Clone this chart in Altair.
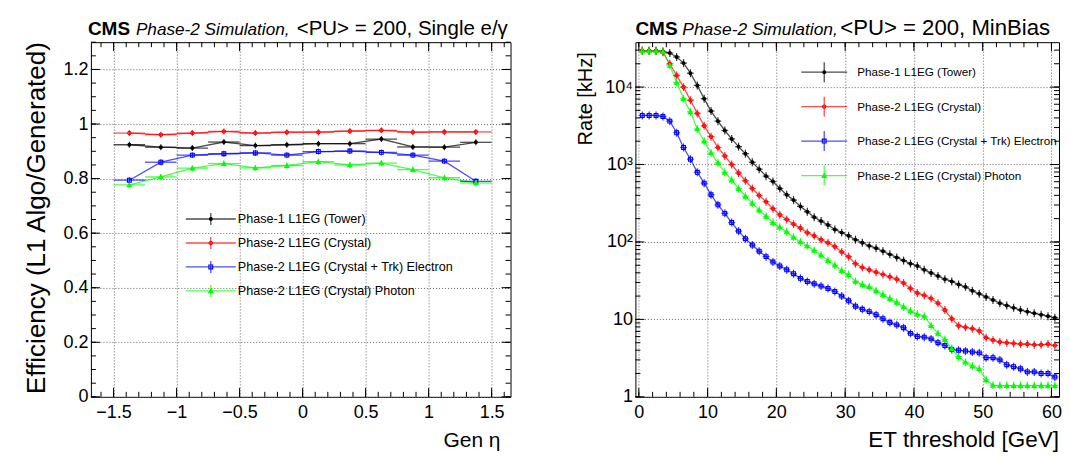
import altair as alt
import pandas as pd

FONT = "Liberation Sans"

names = ["Phase-1 L1EG (Tower)", "Phase-2 L1EG (Crystal)",
         "Phase-2 L1EG (Crystal + Trk) Electron", "Phase-2 L1EG (Crystal) Photon"]
colors = ["#000000", "#ff0000", "#0000ff", "#00ff00"]
shapes = ["circle", "circle", "square", "triangle-up"]
fills = ["#000000", "transparent", "transparent", "#00ff00"]

# ---- efficiency vs eta ----
eta_centers = [-1.375, -1.125, -0.875, -0.625, -0.375, -0.125,
               0.125, 0.375, 0.625, 0.875, 1.125, 1.375]
eff_tower = [0.924, 0.915, 0.912, 0.934, 0.921, 0.924, 0.928, 0.928, 0.945, 0.916, 0.915, 0.933]
eff_crystal = [0.967, 0.961, 0.967, 0.973, 0.967, 0.970, 0.970, 0.974, 0.977, 0.970, 0.971, 0.971]
eff_electron = [0.794, 0.860, 0.886, 0.891, 0.894, 0.886, 0.899, 0.901, 0.896, 0.886, 0.864, 0.790]
eff_photon = [0.777, 0.806, 0.838, 0.855, 0.839, 0.848, 0.862, 0.850, 0.857, 0.833, 0.803, 0.784]

# ---- rate vs ET threshold ----
et_centers = [i + 0.5 for i in range(61)]
rate_tower = [29500, 29500, 29500, 28800, 27500, 24500, 20400, 15100, 10500, 7080,
              4900, 3630, 2750, 2140, 1700, 1380, 1070, 871, 708, 603,
              490, 407, 347, 288, 245, 209, 186, 166, 145, 132,
              120, 107, 97.7, 89.1, 83.2, 75.9, 69.2, 63.1, 57.5, 52.5,
              49.0, 43.7, 39.8, 36.3, 33.1, 30.9, 28.2, 26.3, 23.4, 21.4,
              19.5, 17.8, 16.2, 15.1, 14.1, 13.2, 12.6, 12.0, 11.5, 11.0, 10.5]
rate_crystal = [29500, 29500, 29500, 28200, 20000, 14100, 10000, 6760, 4570, 3160,
                2290, 1660, 1290, 1000, 776, 617, 490, 398, 331, 269,
                224, 195, 170, 151, 132, 120, 107, 97.7, 87.1, 74.1,
                64.6, 52.5, 46.8, 43.7, 40.7, 38.0, 35.5, 33.1, 29.5, 25.1,
                21.9, 20.4, 18.6, 16.2, 13.2, 10.2, 8.3, 7.9, 7.6, 7.1,
                5.8, 5.4, 5.1, 5.0, 4.9, 4.8, 4.8, 4.7, 4.7, 4.8, 4.6]
rate_electron = [4300, 4300, 4300, 4170, 3630, 2570, 1660, 1170, 794, 575,
                 407, 302, 234, 178, 138, 110, 91.2, 75.9, 64.6, 55.0,
                 49.0, 43.7, 38.9, 33.9, 30.9, 28.8, 26.9, 25.1, 22.9, 20.0,
                 17.4, 14.8, 13.5, 12.6, 11.5, 10.2, 9.1, 8.5, 7.8, 6.6,
                 6.0, 5.9, 5.6, 5.0, 4.6, 4.1, 4.0, 3.9, 3.8, 3.7,
                 3.2, 3.2, 3.0, 2.6, 2.45, 2.3, 2.1, 2.1, 2.0, 2.0, 1.8]
rate_photon = [29500, 29500, 29500, 28800, 19100, 11500, 7080, 4790, 2880, 2000,
               1410, 1050, 794, 631, 490, 389, 316, 257, 214, 178,
               155, 135, 115, 100, 89.1, 77.6, 67.6, 57.5, 50.1, 42.7,
               38.0, 30.9, 28.2, 26.3, 23.4, 20.9, 18.6, 16.6, 14.5, 12.9,
               11.7, 11.0, 8.3, 6.6, 5.5, 4.2, 3.3, 2.8, 2.5, 2.3,
               1.66, 1.41, 1.40, 1.40, 1.40, 1.40, 1.40, 1.40, 1.40, 1.40, 1.40]

eta_major = [-1.5, -1.0, -0.5, 0.0, 0.5, 1.0, 1.5]
eta_minor = [round(-1.6 + 0.1 * i, 2) for i in range(33)]
eff_major = [0.0, 0.2, 0.4, 0.6, 0.8, 1.0, 1.2]
eff_minor = [round(0.05 * i, 2) for i in range(27)]
et_major = [0, 10, 20, 30, 40, 50, 60]
et_minor = [2 * i for i in range(31)]
rate_major = [1, 10, 100, 1000, 10000]
rate_minor = [m * 10 ** k for k in range(5) for m in range(1, 10) if m * 10 ** k <= 38000]

eff_df = pd.DataFrame({
    "x": eta_centers * 4,
    "y": eff_tower + eff_crystal + eff_electron + eff_photon,
    "name": [n for n in names for _ in eta_centers],
})
rate_df = pd.DataFrame({
    "x": et_centers * 4,
    "y": rate_tower + rate_crystal + rate_electron + rate_photon,
    "name": [n for n in names for _ in et_centers],
})

color_enc = alt.Color("name:N", scale=alt.Scale(domain=names, range=colors), legend=None)
shape_enc = alt.Shape("name:N", scale=alt.Scale(domain=names, range=shapes), legend=None)
fill_enc = alt.Fill("name:N", scale=alt.Scale(domain=names, range=fills), legend=None)


def label_axis(orient, values, pad, fmt=None, label_expr=None):
    kw = dict(orient=orient, values=values, ticks=False, tickSize=0, domain=False,
              grid=True, gridDash=[1, 2], gridColor="#666666", gridWidth=1, title=None,
              labels=True, labelFont=FONT, labelFontSize=18, labelColor="#000000",
              labelPadding=pad, labelFlush=False, labelOverlap=False)
    if fmt:
        kw["format"] = fmt
    if label_expr:
        kw["labelExpr"] = label_expr
    return alt.Axis(**kw)


def tick_rules(vals, xs, ys, width, height, is_x, size):
    d = alt.Chart(pd.DataFrame({"v": vals})).mark_rule(color="#000000", strokeWidth=1)
    if is_x:
        X = alt.X("v:Q", scale=xs, axis=None)
        return [d.encode(x=X, y=alt.value(height), y2=alt.value(height - size)),
                d.encode(x=X, y=alt.value(0), y2=alt.value(size))]
    Y = alt.Y("v:Q", scale=ys, axis=None)
    return [d.encode(y=Y, x=alt.value(0), x2=alt.value(size)),
            d.encode(y=Y, x=alt.value(width), x2=alt.value(width - size))]


def panel(df, xs, ys, xmaj, xmin, ymaj, ymin, width, height, xfmt, yfmt, ylabel_expr,
          half_bin, vsize, sizes, leg, leg_fs, title_rest, title_x, title_fs, xtitle,
          xtitle_fs, ytitle, ytitle_fs, ytitle_y, ytitle_x):
    size_enc = alt.Size("name:O", scale=alt.Scale(domain=names, range=sizes), legend=None)
    layers = [
        alt.Chart(df).mark_point(opacity=0).encode(
            x=alt.X("x:Q", scale=xs, axis=label_axis("bottom", xmaj, 7, fmt=xfmt)),
            y=alt.Y("y:Q", scale=ys, axis=label_axis("left", ymaj, 3, fmt=yfmt,
                                                     label_expr=ylabel_expr))),
    ]
    layers += tick_rules(xmaj, xs, ys, width, height, True, 9)
    layers += tick_rules(xmin, xs, ys, width, height, True, 5)
    layers += tick_rules(ymaj, xs, ys, width, height, False, 9)
    layers += tick_rules(ymin, xs, ys, width, height, False, 5)

    X = alt.X("x:Q", scale=xs, axis=None)
    Y = alt.Y("y:Q", scale=ys, axis=None)
    base = alt.Chart(df)
    layers += [
        base.mark_line(strokeWidth=1.3, opacity=0.7).encode(x=X, y=Y, color=color_enc),
        base.transform_calculate(lo=f"datum.x - {half_bin}", hi=f"datum.x + {half_bin}")
            .mark_rule(strokeWidth=1.3, opacity=0.7)
            .encode(x=alt.X("lo:Q", scale=xs, axis=None), x2="hi:Q", y=Y, color=color_enc),
        base.mark_tick(orient="vertical", size=vsize, thickness=1.2, opacity=0.8)
            .encode(x=X, y=Y, color=color_enc),
        base.mark_point(strokeWidth=1.1, opacity=1)
            .encode(x=X, y=Y, color=color_enc, shape=shape_enc, fill=fill_enc, size=size_enc),
    ]
    # legend (pixel positioned)
    lg = alt.Chart(leg)
    P = lambda f: alt.X(f, type="quantitative", scale=None, axis=None)
    Q = lambda f: alt.Y(f, type="quantitative", scale=None, axis=None)
    layers += [
        lg.mark_rule(strokeWidth=1.3, opacity=0.7).encode(x=P("x1"), x2="x2:Q", y=Q("ly"), color=color_enc),
        lg.mark_rule(strokeWidth=1.3, opacity=0.7).encode(x=P("xm"), y=Q("y1"), y2="y2:Q", color=color_enc),
        lg.mark_point(strokeWidth=1.1, opacity=1).encode(
            x=P("xm"), y=Q("ly"), color=color_enc, shape=shape_enc, fill=fill_enc, size=size_enc),
        lg.mark_text(align="left", baseline="middle", font=FONT, fontSize=leg_fs,
                     color="#000000").encode(x=P("tx"), y=Q("ly"), text="name:N"),
    ]
    one = alt.Chart(pd.DataFrame({"a": [0]}))
    layers += [
        one.mark_text(align="left", baseline="alphabetic", font=FONT, fontSize=title_fs[0],
                      fontWeight="bold", color="#000000").encode(
            x=alt.value(title_x[0]), y=alt.value(-7), text=alt.value("CMS")),
        one.mark_text(align="left", baseline="alphabetic", font=FONT, fontSize=title_fs[1],
                      fontStyle="italic", color="#000000").encode(
            x=alt.value(title_x[1]), y=alt.value(-7), text=alt.value("Phase-2 Simulation,")),
        one.mark_text(align="left", baseline="alphabetic", font=FONT, fontSize=title_fs[2],
                      color="#000000").encode(
            x=alt.value(title_x[2]), y=alt.value(-7), text=alt.value(title_rest)),
        one.mark_text(align="right", baseline="alphabetic", font=FONT, fontSize=xtitle_fs,
                      color="#000000").encode(
            x=alt.value(xtitle[1]), y=alt.value(height + 50), text=alt.value(xtitle[0])),
        one.mark_text(align="right", baseline="alphabetic", font=FONT, fontSize=ytitle_fs,
                      angle=270, color="#000000").encode(
            x=alt.value(ytitle_x), y=alt.value(ytitle_y), text=alt.value(ytitle)),
    ]
    return alt.layer(*layers).resolve_axis(x="independent", y="independent").properties(
        width=width, height=height)


def legend_table(x1, x2, tx, y0, dy, err):
    return pd.DataFrame({
        "name": names,
        "x1": [x1] * 4, "x2": [x2] * 4, "xm": [(x1 + x2) / 2] * 4, "tx": [tx] * 4,
        "ly": [y0 + dy * i for i in range(4)],
        "y1": [y0 + dy * i - err for i in range(4)],
        "y2": [y0 + dy * i + err for i in range(4)],
    })


left = panel(
    eff_df,
    alt.Scale(domain=[-1.68, 1.65], nice=False, zero=False),
    alt.Scale(domain=[0, 1.3], nice=False, zero=False),
    eta_major, eta_minor, eff_major, eff_minor, 420, 355, "~g", "~g", None,
    0.125, 6, [8, 18, 20, 14], legend_table(95, 145, 147, 177, 24, 6), 12.6,
    "<PU> = 200, Single e/\u03b3", [-3, 45, 206], [19, 17.2, 20.5], ("Gen \u03b7", 410), 21,
    "Efficiency (L1 Algo/Generated)", 26, 0, -46)

right = panel(
    rate_df,
    alt.Scale(domain=[-0.5, 61.1], nice=False, zero=False),
    alt.Scale(type="log", domain=[1, 38000], nice=False),
    et_major, et_minor, rate_major, rate_minor, 424, 355, "d", None,
    "datum.value == 1 ? '1' : datum.value == 10 ? '10' : datum.value == 100 ? '10\u00b2' : "
    "datum.value == 1000 ? '10\u00b3' : '10\u2074'",
    0.5, 8, [8, 24, 24, 16], legend_table(166, 212, 222, 30, 34.5, 10), 11.7,
    "<PU> = 200, MinBias", [0, 47, 205], [19, 17.4, 22.2], ("ET threshold [GeV]", 424), 22.5,
    "Rate [kHz]", 20, 10, -43)

chart = alt.hconcat(left, right, spacing=125, bounds="flush").properties(
    padding={"left": 15, "top": 8, "right": 0, "bottom": 0}
).configure(font=FONT, background="white").configure_view(stroke="#000000", strokeWidth=1)

chart.save("out.html", embed_options={"renderer": "svg", "actions": False})
